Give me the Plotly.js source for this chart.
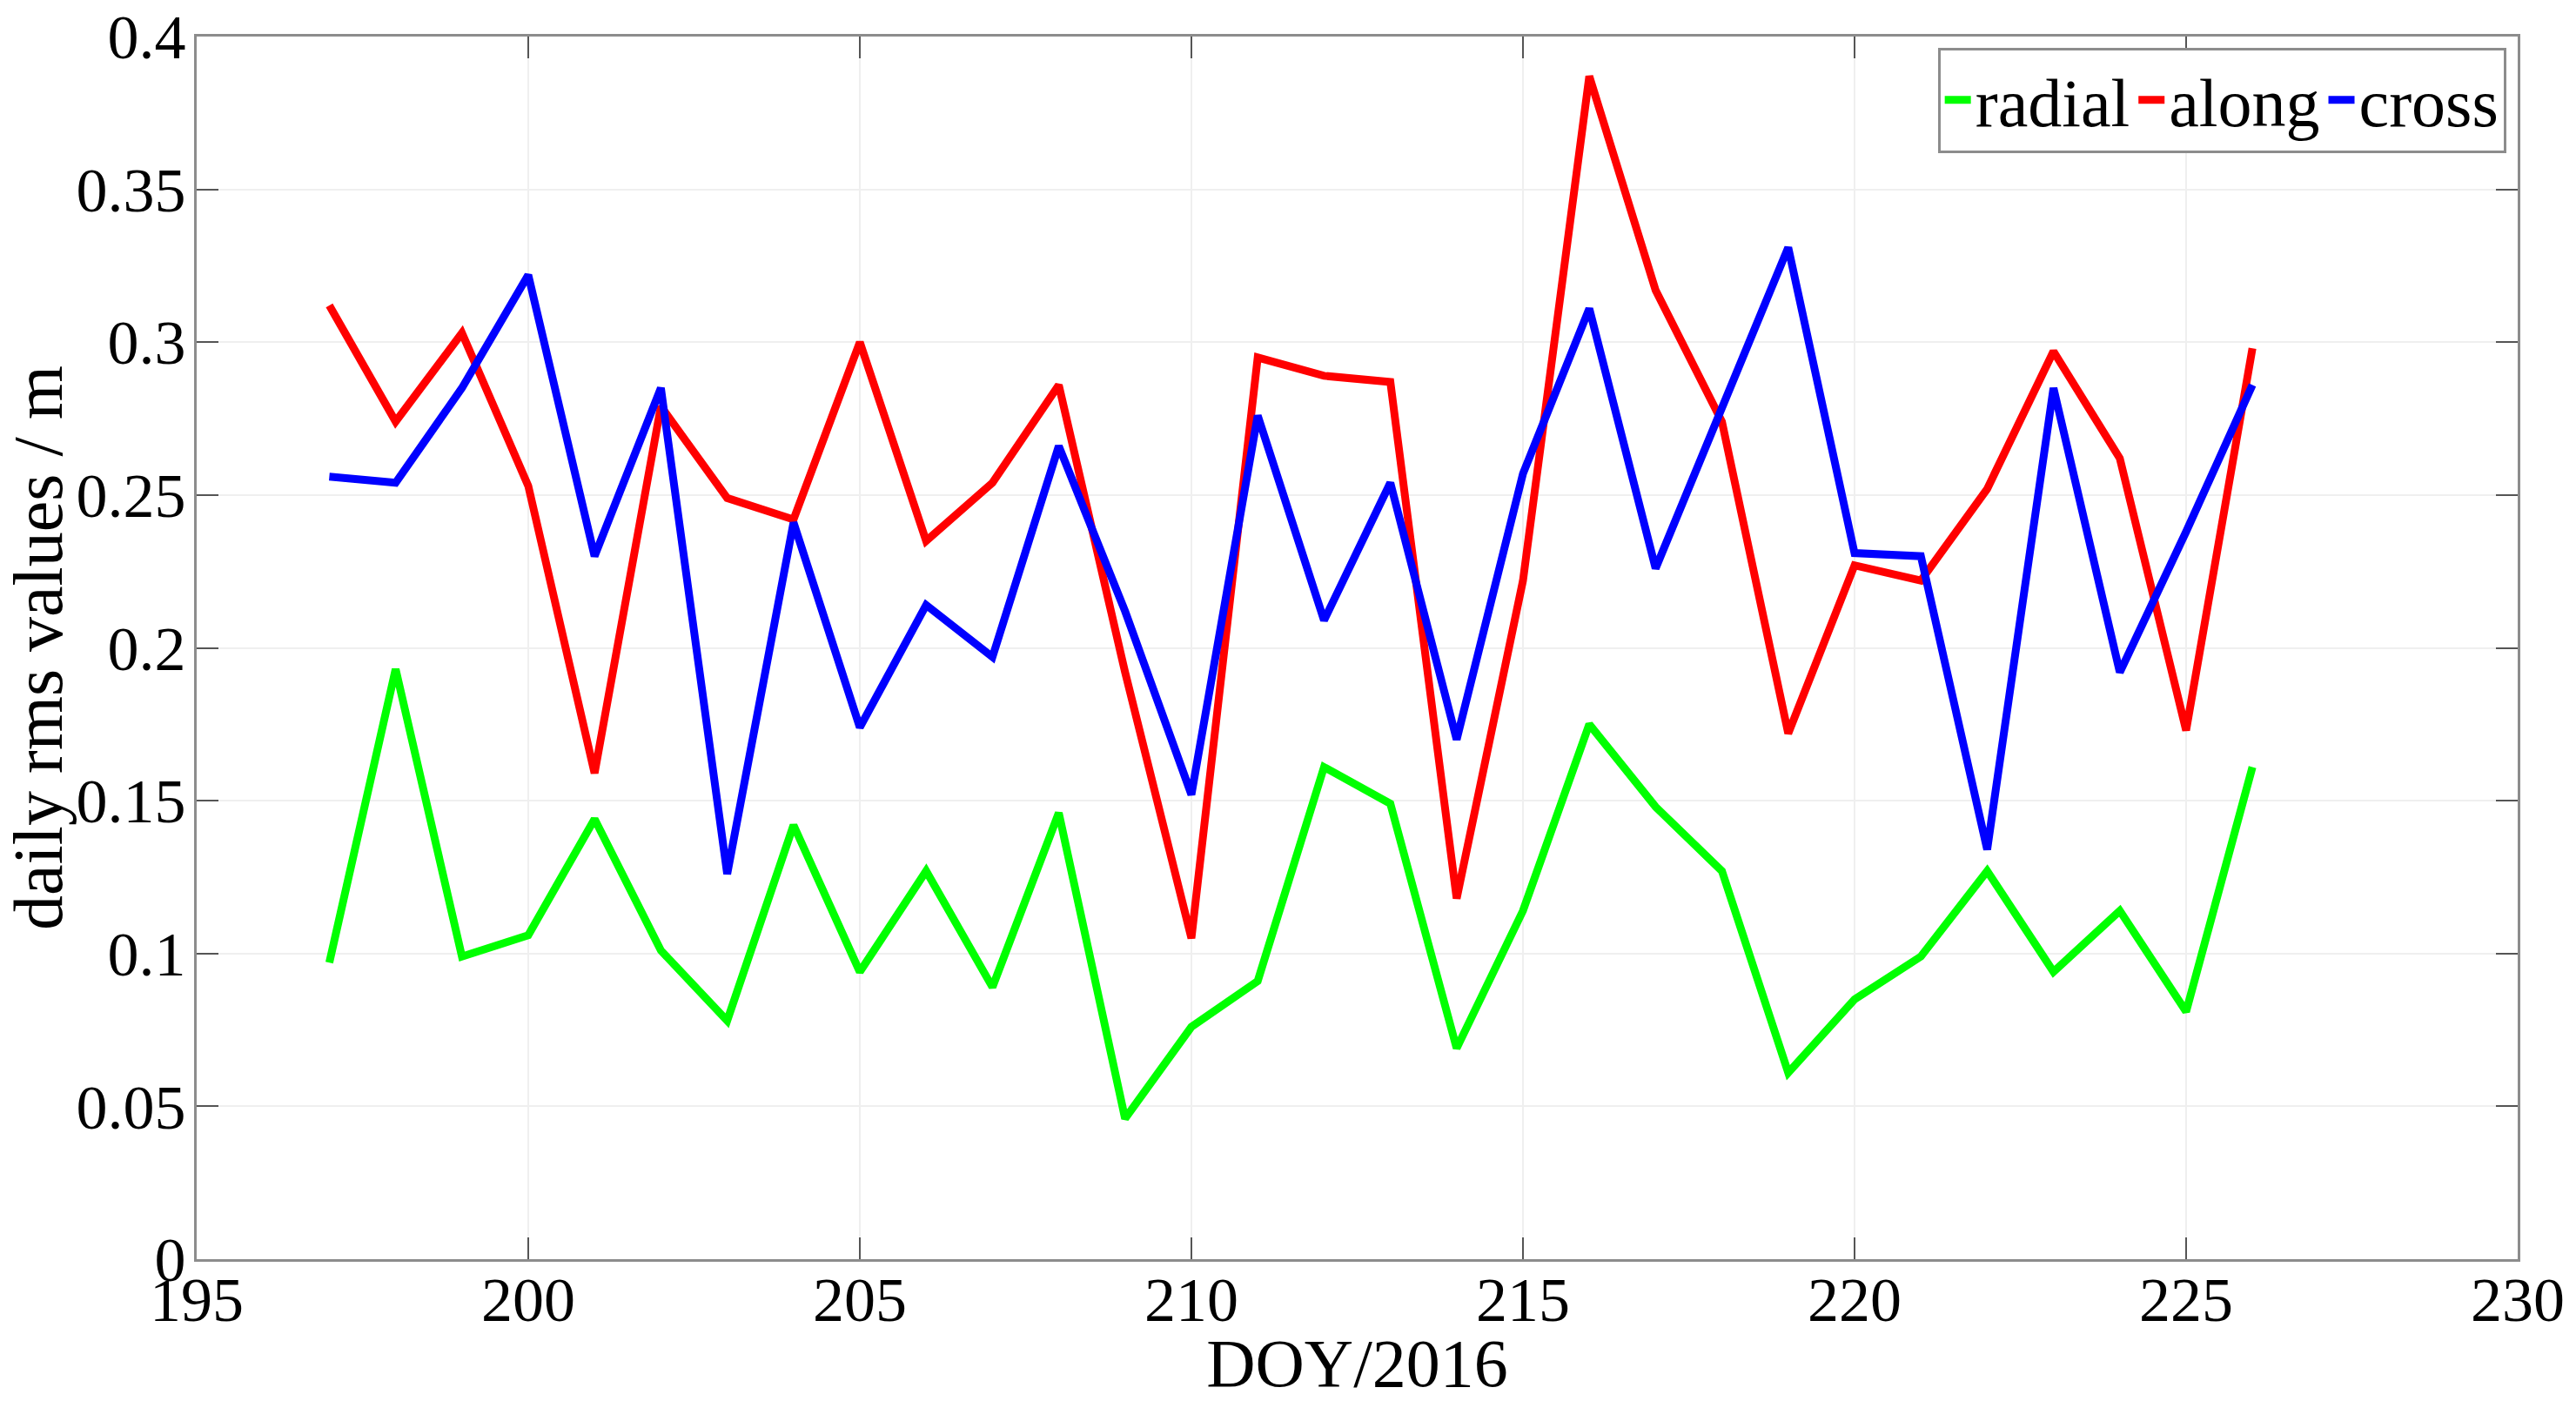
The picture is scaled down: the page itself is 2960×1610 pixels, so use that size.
<!DOCTYPE html>
<html>
<head>
<meta charset="utf-8">
<script src="https://cdn.plot.ly/plotly-3.0.1.min.js"></script>
<style>
  html, body { margin: 0; padding: 0; background: #fff; }
  #chart { width: 2960px; height: 1610px; }
</style>
</head>
<body>
<div id="chart"></div>
<script>
// day of year 2016
var doy = [197, 198, 199, 200, 201, 202, 203, 204, 205, 206,
           207, 208, 209, 210, 211, 212, 213, 214, 215, 216,
           217, 218, 219, 220, 221, 222, 223, 224, 225, 226];

// daily rms values in metres
var radial = [0.097, 0.193, 0.099, 0.106, 0.144, 0.101, 0.078, 0.142, 0.094, 0.127,
              0.089, 0.146, 0.046, 0.076, 0.091, 0.161, 0.149, 0.069, 0.114, 0.175,
              0.148, 0.127, 0.061, 0.085, 0.099, 0.127, 0.094, 0.114, 0.081, 0.161];
var along = [0.312, 0.274, 0.303, 0.253, 0.159, 0.279, 0.249, 0.242, 0.300, 0.235,
             0.254, 0.286, 0.192, 0.105, 0.295, 0.289, 0.287, 0.118, 0.222, 0.387,
             0.317, 0.274, 0.172, 0.227, 0.222, 0.252, 0.297, 0.262, 0.173, 0.298];
var cross = [0.256, 0.254, 0.285, 0.322, 0.230, 0.285, 0.126, 0.241, 0.174, 0.214,
             0.197, 0.266, 0.212, 0.152, 0.276, 0.209, 0.254, 0.170, 0.257, 0.311,
             0.226, 0.278, 0.331, 0.231, 0.230, 0.134, 0.285, 0.192, 0.238, 0.286];

var font = 'Liberation Serif, Times New Roman, serif';

function line(name, y, color) {
  return {
    x: doy,
    y: y,
    name: name,
    type: 'scatter',
    mode: 'lines',
    line: { color: color, width: 9 }
  };
}

var data = [
  line('radial', radial, '#00ff00'),
  line('along', along, '#ff0000'),
  line('cross', cross, '#0000ff')
];

var axis = {
  showline: true,
  linecolor: '#8c8c8c',
  linewidth: 3,
  mirror: 'ticks',
  ticks: 'inside',
  ticklen: 25,
  tickwidth: 2,
  tickcolor: '#555',
  showgrid: true,
  gridcolor: '#efefef',
  gridwidth: 2,
  zeroline: false,
  tickfont: { family: font, size: 72, color: '#000' }
};

var layout = {
  width: 2960,
  height: 1610,
  margin: { l: 226, r: 67, t: 42, b: 163 },
  paper_bgcolor: '#fff',
  plot_bgcolor: '#fff',
  font: { family: font, size: 72, color: '#000' },
  showlegend: true,
  xaxis: Object.assign({}, axis, {
    range: [195, 230],
    dtick: 5,
    tick0: 195,
    ticklabelstandoff: -18,
    title: { text: 'DOY/2016', font: { family: font, size: 78, color: '#000' }, standoff: 2 }
  }),
  yaxis: Object.assign({}, axis, {
    range: [0, 0.4],
    dtick: 0.05,
    tick0: 0,
    ticklabelstandoff: -5,
    title: { text: 'daily rms values / m', font: { family: font, size: 80, color: '#000' }, standoff: 10 }
  }),
  legend: {
    orientation: 'h',
    x: 0.995,
    xanchor: 'right',
    y: 0.991,
    yanchor: 'top',
    bgcolor: '#fff',
    bordercolor: '#8c8c8c',
    borderwidth: 3,
    font: { family: font, size: 78, color: '#000' },
    tracegroupgap: 0
  }
};

Plotly.newPlot('chart', data, layout, { displayModeBar: false, staticPlot: true });
</script>
</body>
</html>
